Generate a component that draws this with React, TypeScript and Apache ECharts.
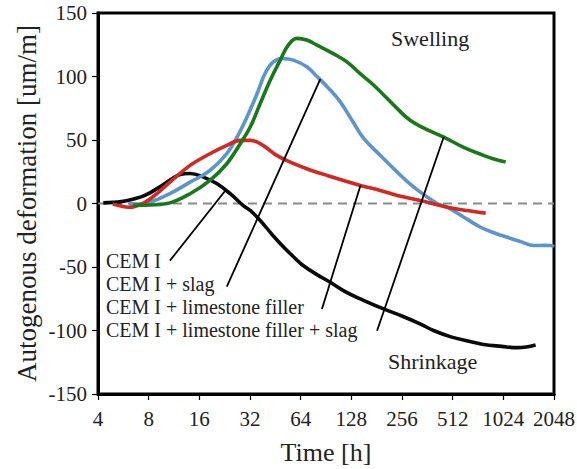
import React, { useEffect, useRef } from "react";
import * as echarts from "echarts";

// Time [h] / deformation [um/m]
const cemI: [number, number][] = [
  [4.3, 0.5], [5.5, 1.5], [6.5, 3.5], [7.6, 6.3], [9.6, 14.2], [11, 19.5], [12.3, 22.8], [14.1, 23.6], [16.9, 20.8],
  [20.4, 15.5], [24.4, 7.7], [29.2, -1.6], [32.1, -5.5], [36, -12], [40, -19], [45, -27],
  [50.8, -34.5], [56, -40], [65, -48], [80, -56], [96, -62], [120, -70], [150, -76], [199, -83],
  [260, -89], [330, -95], [394, -100], [500, -105], [640, -108.5], [780, -111], [1000, -112.5],
  [1240, -113.5], [1400, -113], [1593, -111.5],
];
const cemISlag: [number, number][] = [
  [6.1, 0], [7.2, -0.5], [8.2, 1], [10.7, 7.7], [14.1, 16.8], [18.5, 26], [23.3, 39.2], [26.8, 52.3],
  [30.7, 68.1], [35.3, 86.6], [39.3, 102.4], [44, 111.5], [49.6, 114.2], [58, 112.9], [69.6, 107.6],
  [80, 100], [95, 90], [110, 80], [130, 65], [152, 51], [190, 38], [240, 24.7], [301, 12.9],
  [414, 0], [475, -2.9], [600, -11], [750, -18.7], [900, -23], [1080, -26.6], [1300, -30], [1548, -33.1],
  [1800, -33], [1955, -33.1], [2048, -34],
];
const cemILime: [number, number][] = [
  [4.9, -0.5], [5.3, -1.6], [6.1, -3], [7.1, -1], [8.2, 3.7], [10.7, 16.8], [14.1, 30], [18.5, 39.2],
  [23.3, 45.8], [28, 49.7], [32.1, 49.7], [38.2, 45.8], [46.1, 37.9], [55.5, 32.6], [69.6, 27.4],
  [92, 22.1], [145, 14.2], [190, 10.3], [240, 6.3], [328, 2.4], [475, -2.9], [620, -5.5], [804, -7.6],
];
const cemILimeSlag: [number, number][] = [
  [6.5, -1.5], [8.2, -1.2], [10.7, 0.5], [14.1, 7.7], [18.5, 18.2], [23.3, 31.3], [28, 47.1], [32.1, 60.2],
  [36.8, 78.7], [42.2, 97.1], [48.4, 112.9], [54, 124.7], [60.8, 130], [69.6, 128.7],
  [80, 124.7], [100, 118], [120.5, 111.5], [145, 102], [174, 93.1], [240, 74.7], [286, 65.5], [350, 59],
  [453, 52.3], [600, 44], [780, 37.9], [900, 35], [1057, 32.6],
];

const seriesNames = ["CEM I", "CEM I + slag", "CEM I + limestone filler", "CEM I + limestone filler + slag"];
// leader lines: [from label end, to curve]
const leaders: [number, number][][] = [
  [[10.7, -45], [22.8, 10]],
  [[23.3, -65.5], [83.7, 98]],
  [[85.6, -83.1], [145, 14.2]],
  [[182, -100.2], [453, 52.3]],
];
const zeroLine: [number, number][] = [[4, 0], [2048, 0]];
const xTicks = [4, 8, 16, 32, 64, 128, 256, 512, 1024, 2048];
const yTicks = [-150, -100, -50, 0, 50, 100, 150];
const xTitle = "Time [h]";
const yTitle = "Autogenous deformation [um/m]";

const FONT = "Liberation Serif";
const TXT = "#222";

export default function App() {
  const ref = useRef<HTMLDivElement>(null);
  useEffect(() => {
    if (!ref.current) return;
    const chart = echarts.init(ref.current, undefined, { renderer: "svg" });
    const colors = ["#0a0a0a", "#5b95d0", "#d2281f", "#177a17"];
    const data = [cemI, cemISlag, cemILime, cemILimeSlag];
    const curveSeries = data.map((d, i) => ({
      name: seriesNames[i],
      type: "line",
      data: d,
      showSymbol: false,
      smooth: 0.4,
      z: 3,
      lineStyle: { color: colors[i], width: 3.6 },
      silent: true,
    }));
    const leaderSeries = leaders.map((d) => ({
      type: "line",
      data: d,
      showSymbol: false,
      z: 4,
      lineStyle: { color: "#000", width: 1.8 },
      silent: true,
    }));
    chart.setOption({
      animation: false,
      grid: {
        left: 98, right: 23, top: 13, bottom: 75, show: true, borderColor: "#000", borderWidth: 3,
        containLabel: false, outerBoundsMode: "none",
      },
      xAxis: {
        type: "log",
        logBase: 2,
        min: 4,
        max: 2048,
        axisLine: { show: true, onZero: false, lineStyle: { color: "#000", width: 3 } },
        axisTick: { show: true, length: 6, lineStyle: { color: "#000", width: 1.2 } },
        axisLabel: { show: false },
        splitLine: { show: false },
        minorTick: { show: false },
      },
      yAxis: {
        type: "value",
        min: -150,
        max: 150,
        interval: 50,
        axisLine: { show: true, onZero: false, lineStyle: { color: "#000", width: 3 } },
        axisTick: { show: true, length: 6, lineStyle: { color: "#000", width: 1.2 } },
        axisLabel: { show: false },
        splitLine: { show: false },
      },
      series: [
        {
          type: "line",
          data: zeroLine,
          showSymbol: false,
          z: 2,
          silent: true,
          lineStyle: { color: "#8a8a8a", width: 1.8, type: [9, 6] },
        },
        ...curveSeries,
        ...leaderSeries,
      ],
    });

    const toPx = (x: number, y: number) => chart.convertToPixel({ gridIndex: 0 }, [x, y]) as number[];
    const [x0, yBottom] = toPx(xTicks[0], yTicks[0]);
    const [x1, yTop] = toPx(xTicks[xTicks.length - 1], yTicks[yTicks.length - 1]);
    const txt = (text: string, x: number, y: number, size: number, align: string, extra: any = {}) => ({
      type: "text",
      x,
      y,
      z: 10,
      silent: true,
      ...extra,
      style: { text, fontFamily: FONT, fontSize: size, fill: TXT, align, verticalAlign: "middle" },
    });
    const graphics: any[] = [];
    xTicks.forEach((t) => {
      const [px] = toPx(t, 0);
      graphics.push(txt(String(t), px, yBottom + 25, 21, "center"));
    });
    yTicks.forEach((t) => {
      const [, py] = toPx(4, t);
      graphics.push(txt(String(t), x0 - 11, py, 21, "right"));
    });
    graphics.push(txt(xTitle, (x0 + x1) / 2, yBottom + 58, 26, "center"));
    graphics.push(txt(yTitle, 27, (yTop + yBottom) / 2, 27, "center", { rotation: Math.PI / 2 }));
    const labelYs = [261, 284, 307, 330];
    seriesNames.forEach((n, i) => graphics.push(txt(n, 106, labelYs[i], 20, "left")));
    graphics.push(txt("Swelling", 391, 38, 22, "left"));
    graphics.push(txt("Shrinkage", 388, 361, 22, "left"));
    chart.setOption({ graphic: graphics });

    return () => chart.dispose();
  }, []);
  return <div ref={ref} style={{ width: 577, height: 469, position: "absolute", left: 0, top: 0, background: "#fff" }} />;
}
